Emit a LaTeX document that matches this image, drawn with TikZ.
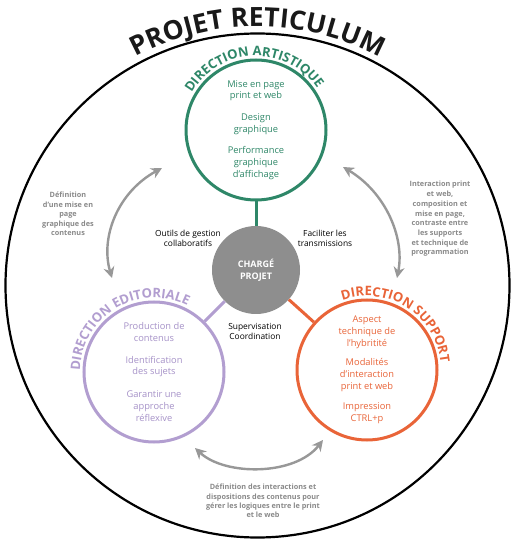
\documentclass[tikz,border=0pt]{standalone}
\usepackage{fontspec}
\setmainfont{Open Sans}
\usetikzlibrary{decorations.text,arrows.meta}
\definecolor{tgreen}{RGB}{46,135,104}
\definecolor{tpurple}{RGB}{178,158,208}
\definecolor{tpurpletext}{RGB}{166,146,200}
\definecolor{torange}{RGB}{233,100,56}
\definecolor{cgray}{RGB}{142,142,142}
\definecolor{agray}{RGB}{152,152,152}
\definecolor{lgray}{RGB}{138,138,138}
\newcommand{\dirfont}{\fontsize{13}{13}\selectfont\bfseries}
\begin{document}
\begin{tikzpicture}[x=1pt,y=1pt,
  dirbox/.style={circle, line width=3pt, minimum size=140pt, inner sep=0pt, align=center,
    font=\fontsize{9.3}{11.7}\selectfont},
  blacklabel/.style={align=center, font=\fontsize{8.4}{10.5}\selectfont},
  graylabel/.style={align=center, text=lgray, font=\fontsize{7.3}{9.4}\selectfont\bfseries},
  garrow/.style={agray, line width=2.4pt, {Stealth[length=11pt,width=11pt]}-{Stealth[length=11pt,width=11pt]}},
  link/.style={line width=3pt}
]
\useasboundingbox (0,0) rectangle (515,542);
\fill[white] (0,0) rectangle (515,542);

% outer circle and title
\node[circle, draw=black, line width=2.2pt, minimum size=504pt, inner sep=0pt] (O) at (257.5,256.5) {};
\path[decorate, decoration={text along path, text align=center,
  text={|\fontsize{26.5}{26.5}\selectfont\bfseries\color{black!90}|PROJET RETICULUM}}]
  (257.5,256.5) ++(140:259) arc[start angle=140, end angle=40, radius=259];

% direction circles
\node[dirbox, draw=tgreen, text=tgreen] (G) at (256,412)
  {Mise en page\\print et web\\[10pt]Design\\graphique\\[10pt]Performance\\graphique\\d’affichage};
\node[dirbox, draw=tpurple, text=tpurpletext] (P) at (154,170)
  {Production de\\contenus\\[10pt]Identification\\des sujets\\[11pt]Garantir une\\approche\\réflexive};
\node[dirbox, draw=torange, text=torange] (S) at (367,172)
  {Aspect\\technique de\\l’hybritité\\[8pt]Modalités\\d’interaction\\print et web\\[9pt]Impression\\CTRL+p};

% centre
\node[circle, fill=cgray, minimum size=88pt, inner sep=0pt, text=white, align=center,
  font=\fontsize{9}{12}\selectfont\bfseries] (C) at (256,272) {CHARGÉ\\PROJET};

\draw[link, tgreen] (C) -- (G);
\draw[link, tpurple] (C) -- (P);
\draw[link, torange] (C) -- (S);

% circle titles
\path[decorate, decoration={text along path, text align=center,
  text={|\dirfont\color{tgreen}|DIRECTION ARTISTIQUE}}]
  (256,412) ++(162:74) arc[start angle=162, end angle=22, radius=74];
\path[decorate, decoration={text along path, text align=center,
  text={|\dirfont\color{tpurple}|DIRECTION EDITORIALE}}]
  (154,170) ++(191:74) arc[start angle=191, end angle=51, radius=74];
\path[decorate, decoration={text along path, text align=center,
  text={|\dirfont\color{torange}|DIRECTION SUPPORT}}]
  (367,172) ++(127.5:74) arc[start angle=127.5, end angle=-12.5, radius=74];

% labels around centre
\node[blacklabel] (l1) at (188,303.5) {Outils de gestion\\collaboratifs};
\node[blacklabel] (l2) at (325,303.5) {Faciliter les\\transmissions};
\node[blacklabel] (l3) at (255,210.5) {Supervisation\\Coordination};

% gray arrows
\coordinate (A1) at (162,374);
\coordinate (A2) at (112,264);
\coordinate (B1) at (343,375);
\coordinate (B2) at (397,264);
\coordinate (D1) at (195,94);
\coordinate (D2) at (323,102);
\draw[garrow] (A1) .. controls (118,350) and (100,305) .. (A2);
\draw[garrow] (B1) .. controls (385,350) and (405,305) .. (B2);
\draw[garrow] (D1) .. controls (225,66) and (295,66) .. (D2);

% gray labels
\node[graylabel] (g1) at (68,328) {Définition\\d’une mise en\\page\\graphique des\\contenus};
\node[graylabel, font=\fontsize{7.3}{9.7}\selectfont\bfseries] (g2) at (440,323)
  {Interaction print\\et web,\\composition et\\mise en page,\\contraste entre\\les supports\\et technique de\\programmation};
\node[graylabel] (g3) at (263,41)
  {Définition des interactions et\\dispositions des contenus pour\\gérer les logiques entre le print\\et le web};
\end{tikzpicture}
\end{document}
